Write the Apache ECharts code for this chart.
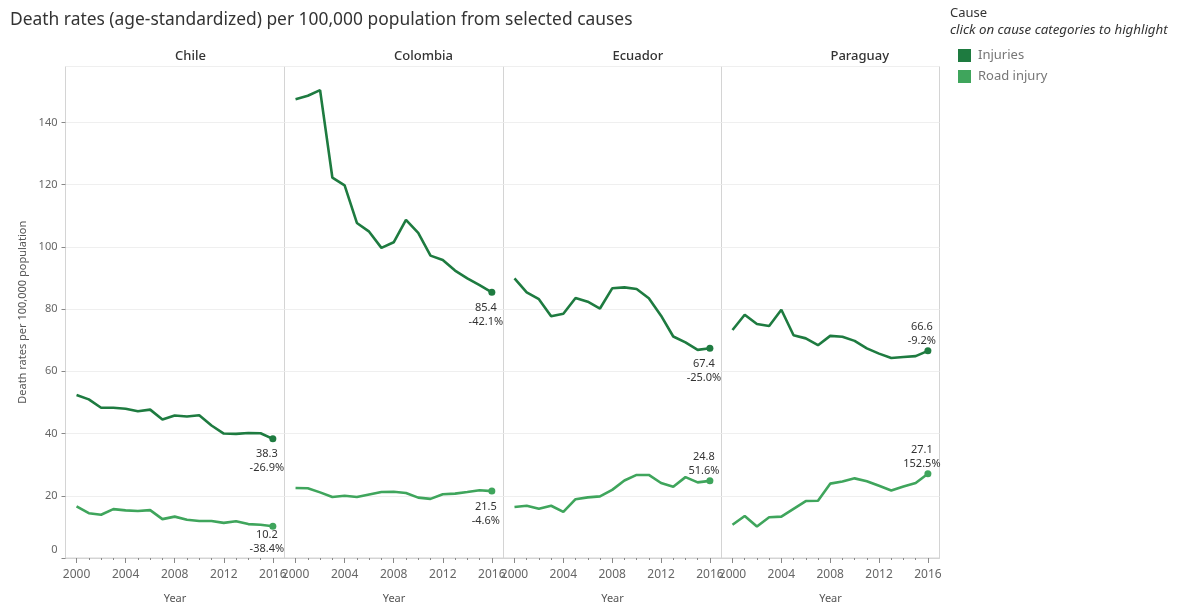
<!DOCTYPE html>
<html>
<head>
<meta charset="utf-8">
<script src="https://cdn.jsdelivr.net/npm/echarts@6/dist/echarts.min.js"></script>
<style>
html,body{margin:0;padding:0;background:#fff;}
#chart{width:1177px;height:603px;}
</style>
</head>
<body>
<div id="chart"></div>
<script>
var years = [2000,2001,2002,2003,2004,2005,2006,2007,2008,2009,2010,2011,2012,2013,2014,2015,2016];
var countries = ['Chile','Colombia','Ecuador','Paraguay'];
var causes = ['Injuries','Road injury'];
var xTickLabels = [2000,2004,2008,2012,2016];
var yTickLabels = [0,20,40,60,80,100,120,140];

var chileInjuries    = [52.4,51.0,48.3,48.3,48.0,47.2,47.7,44.5,45.8,45.5,45.9,42.6,40.0,39.9,40.2,40.1,38.3];
var chileRoad        = [16.6,14.4,13.9,15.7,15.3,15.1,15.4,12.5,13.3,12.3,11.9,11.9,11.3,11.8,10.9,10.7,10.2];
var colombiaInjuries = [147.5,148.6,150.4,122.3,119.8,107.7,104.9,99.7,101.5,108.7,104.5,97.2,95.8,92.4,89.9,87.7,85.4];
var colombiaRoad     = [22.5,22.4,21.1,19.6,20.0,19.6,20.4,21.2,21.3,20.9,19.4,19.0,20.5,20.7,21.2,21.8,21.5];
var ecuadorInjuries  = [89.9,85.4,83.2,77.7,78.5,83.6,82.4,80.2,86.7,87.0,86.5,83.5,77.9,71.2,69.3,66.9,67.4];
var ecuadorRoad      = [16.4,16.8,15.8,16.8,14.8,18.9,19.5,19.8,21.9,24.9,26.7,26.7,24.1,22.9,26.0,24.3,24.8];
var paraguayInjuries = [73.3,78.2,75.2,74.6,79.8,71.6,70.6,68.4,71.4,71.1,69.8,67.4,65.7,64.3,64.6,64.9,66.6];
var paraguayRoad     = [10.7,13.5,10.1,13.1,13.3,15.8,18.3,18.4,23.9,24.6,25.6,24.7,23.2,21.7,23.0,24.1,27.1];

var injuriesPct = ['-26.9%','-42.1%','-25.0%','-9.2%'];
var roadPct     = ['-38.4%','-4.6%','51.6%','152.5%'];

var injuriesByCountry = [chileInjuries, colombiaInjuries, ecuadorInjuries, paraguayInjuries];
var roadByCountry = [chileRoad, colombiaRoad, ecuadorRoad, paraguayRoad];
var injuriesLabelPos = ['bottom','bottom','bottom','top'];
var roadLabelPos = ['bottom','bottom','top','top'];
var injuriesLabelGap = [5, 5, 5, -1];
var roadLabelGap = [-2, 5, -1, -1];

var colors = {'Injuries':'#1e7b40','Road injury':'#3fa55c'};
var FONT = '"Noto Sans", Lato, sans-serif';

var gridLefts = [65.5, 284.5, 503.5, 721.5];
var gridWidths = [219, 219, 218, 218];
var grids = [], xAxes = [], yAxes = [], series = [], graphics = [];

for (var i = 0; i < 4; i++) {
  grids.push({left: gridLefts[i], width: gridWidths[i], top: 66.5, height: 491.5,
    outerBoundsMode: 'none', containLabel: false,
    show: true, borderColor: '#d4d4d4', borderWidth: 1, backgroundColor: 'transparent'});
  xAxes.push({type: 'value', gridIndex: i, min: 1999.1, max: 2016.95,
    name: 'Year', nameLocation: 'middle', nameGap: 35,
    nameTextStyle: {color: '#555', fontSize: 11, fontFamily: FONT},
    axisLine: {show: true, lineStyle: {color: '#d4d4d4'}},
    axisTick: {show: true, customValues: years, length: 2, lineStyle: {color: '#888'}},
    axisLabel: {show: true, customValues: xTickLabels, color: '#666', fontSize: 12, fontFamily: FONT, margin: 11,
      formatter: function(v){ return String(Math.round(v)); }},
    splitLine: {show: false}
  });
  yAxes.push({type: 'value', gridIndex: i, min: 0, max: 158, interval: 20,
    axisLine: {show: false},
    axisTick: {show: i === 0, length: 4, lineStyle: {color: '#888'}},
    axisLabel: {show: i === 0, color: '#666', fontSize: 11, fontFamily: FONT, margin: 8, showMaxLabel: false,
      formatter: function(v){ if (v === 0) return '{z|0}'; return (v % 20 === 0) ? String(v) : ''; },
      rich: {z: {color: '#666', fontSize: 11, fontFamily: FONT, padding: [0, 0, 16, 0]}}},
    splitLine: {show: true, lineStyle: {color: '#efefef', width: 1}},
    name: i === 0 ? 'Death rates per 100,000 population' : '',
    nameLocation: 'middle', nameGap: 37, nameRotate: 90,
    nameTextStyle: {color: '#555', fontSize: 11, fontFamily: FONT}
  });
}
for (var i = 0; i < 4; i++) {
  xAxes.push({type: 'value', gridIndex: i, min: 1999.1, max: 2016.95, position: 'bottom',
    axisLine: {show: false},
    axisTick: {show: true, customValues: xTickLabels, length: 5, lineStyle: {color: '#888'}},
    axisLabel: {show: false},
    splitLine: {show: false}
  });
}

function makeSeries(name, vals, ci, pct, pos, gap) {
  var data = years.map(function(y, k){
    var item = {value: [y, vals[k]]};
    if (k === years.length - 1) {
      item.symbol = 'circle';
      item.symbolSize = 7;
      item.label = {show: true, position: pos, distance: gap, offset: [-6, 0],
        formatter: vals[k].toFixed(1) + '\n' + pct,
        color: '#333', fontSize: 11, fontFamily: FONT, lineHeight: 14, align: 'center'};
    }
    return item;
  });
  return {name: name, type: 'line', xAxisIndex: ci, yAxisIndex: ci, data: data,
    symbol: 'none', showSymbol: true, smooth: false,
    lineStyle: {width: 2.6, color: colors[name]}, itemStyle: {color: colors[name]},
    emphasis: {disabled: true}, animation: false, z: name === 'Injuries' ? 3 : 2};
}

for (var i = 0; i < 4; i++) {
  series.push(makeSeries('Injuries', injuriesByCountry[i], i, injuriesPct[i], injuriesLabelPos[i], injuriesLabelGap[i]));
  series.push(makeSeries('Road injury', roadByCountry[i], i, roadPct[i], roadLabelPos[i], roadLabelGap[i]));
  graphics.push({type: 'text', left: gridLefts[i] + gridWidths[i]/2, top: 50,
    style: {text: countries[i], fill: '#333', font: '500 13px ' + FONT, textAlign: 'center'}});
}

graphics.push({type: 'text', left: 10, top: 12,
  style: {text: 'Death rates (age-standardized) per 100,000 population from selected causes', fill: '#333', font: '17.4px ' + FONT}});
graphics.push({type: 'text', left: 950, top: 7,
  style: {text: 'Cause', fill: '#333', font: '13px ' + FONT}});
graphics.push({type: 'text', left: 950, top: 24,
  style: {text: 'click on cause categories to highlight', fill: '#333', font: 'italic 13.3px ' + FONT}});

var chart = echarts.init(document.getElementById('chart'), null, {renderer: 'canvas'});
chart.setOption({
  animation: false,
  backgroundColor: '#fff',
  grid: grids, xAxis: xAxes, yAxis: yAxes, series: series,
  legend: {orient: 'vertical', left: 953, top: 44, itemWidth: 13, itemHeight: 13, itemGap: 8,
    icon: 'rect', data: causes, selectedMode: false,
    textStyle: {color: '#777', fontSize: 13, fontFamily: FONT, padding: [0,0,0,2]}},
  graphic: graphics
});
</script>
</body>
</html>
